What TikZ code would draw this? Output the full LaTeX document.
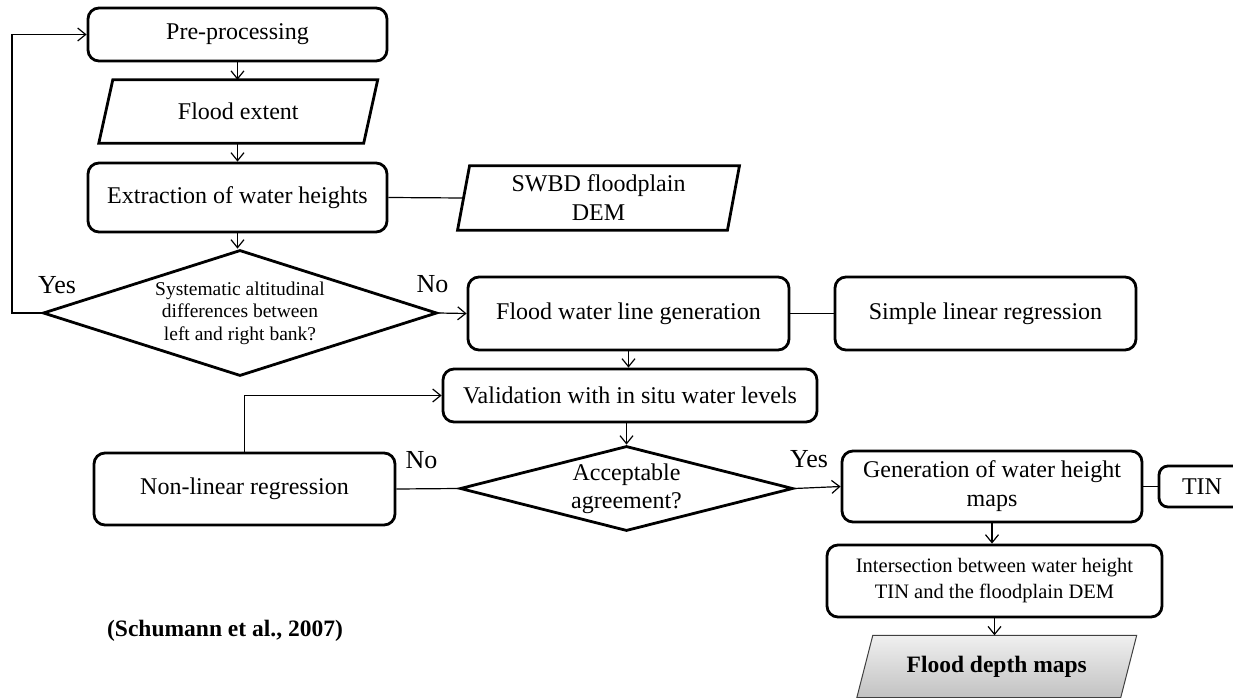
\documentclass[tikz,border=0pt]{standalone}
\usepackage{fontspec}
\setmainfont{Liberation Serif}
\usetikzlibrary{arrows.meta,shapes.geometric,backgrounds,calc}
\tikzset{
  box/.style={draw, line width=2.8pt, rounded corners=11pt, align=center, inner sep=0pt,
    font=\fontsize{24}{29}\selectfont},
  pnode/.style={align=center, inner sep=0pt, font=\fontsize{24}{29}\selectfont},
  pshape/.style={line width=2.8pt, line join=miter},
  dia/.style={draw, diamond, line width=2.8pt, inner sep=0pt, align=center},
  conn/.style={line width=1.2pt},
  arr/.style={conn, -{Straight Barb[length=8pt,width=13pt]}},
  lbl/.style={font=\fontsize{26}{30}\selectfont, inner sep=0pt, anchor=base}
}
\begin{document}
\begin{tikzpicture}[x=1pt,y=-1pt]
\useasboundingbox (0,0) rectangle (1233,698);
\clip (0,0) rectangle (1233,698);

% main column
\node[box, minimum width=299pt, minimum height=53pt] (pre) at (237.5,34.5) {Pre-processing};
\node[pnode, minimum width=264.5pt, minimum height=63pt] (fe) at (238.25,111.5) {Flood extent};
\node[box, minimum width=299pt, minimum height=69pt] (ext) at (237.5,197.5) {Extraction of water heights};
\node[pnode, minimum width=269.5pt, minimum height=64pt] (swbd) at (598.5,198) {SWBD floodplain\\DEM};
\node[dia, minimum width=394pt, minimum height=126pt, aspect=3.13,
  font=\fontsize{19.5}{22.5}\selectfont] (d1) at (240,313)
  {Systematic altitudinal\\differences between\\left and right bank?};
\node[box, minimum width=321pt, minimum height=73pt] (fwl) at (628.5,313.5) {Flood water line generation};
\node[box, minimum width=301pt, minimum height=73pt] (slr) at (985.5,313.5) {Simple linear regression};
\node[box, minimum width=374pt, minimum height=53pt] (val) at (630,395.5) {Validation with in situ water levels};
\node[dia, minimum width=333pt, minimum height=85pt, aspect=3.92,
  font=\fontsize{24}{28}\selectfont] (d2) at (626.5,488.5) {Acceptable\\agreement?};
\node[box, minimum width=301pt, minimum height=72pt] (nl) at (244.5,489) {Non-linear regression};
\node[box, minimum width=300pt, minimum height=71pt] (gen) at (992,486.5) {Generation of water height\\maps};
\node[box, minimum width=86pt, minimum height=41pt, rounded corners=9pt] (tin) at (1202,486.5) {TIN};
\node[box, minimum width=335pt, minimum height=72pt, font=\fontsize{20.5}{26}\selectfont] (inter) at (994.5,581)
  {Intersection between water height\\TIN and the floodplain DEM};
\node[pnode, minimum width=263.5pt, minimum height=62pt, font=\bfseries\fontsize{23.5}{28}\selectfont] (fd) at (996.75,666.5) {Flood depth maps};

\node[font=\bfseries\fontsize{23.5}{26}\selectfont, inner sep=0pt, anchor=base] (cite) at (225,636) {(Schumann et al., 2007)};

% labels
\node[lbl] (yes1) at (57,293) {Yes};
\node[lbl] (no1) at (432.5,292) {No};
\node[lbl] (no2) at (421.5,468) {No};
\node[lbl] (yes2) at (809,467) {Yes};

% parallelograms
\begin{scope}[on background layer]
\draw[pshape] ([xshift=7pt]fe.north west) -- ([xshift=7pt]fe.north east) -- ([xshift=-7pt]fe.south east) -- ([xshift=-7pt]fe.south west) -- cycle;
\draw[pshape] ([xshift=6pt]swbd.north west) -- ([xshift=6pt]swbd.north east) -- ([xshift=-6pt]swbd.south east) -- ([xshift=-6pt]swbd.south west) -- cycle;
\draw[line width=1pt, draw=black!75, top color=black!6, bottom color=black!24]
  ([xshift=8pt]fd.north west) -- ([xshift=8pt]fd.north east) -- ([xshift=-8pt]fd.south east) -- ([xshift=-8pt]fd.south west) -- cycle;
\end{scope}

% connectors
\coordinate (loopx) at (12,0);
\draw[arr] (pre.south) -- (pre.south |- fe.north);
\draw[arr] (ext.north |- fe.south) -- (ext.north);
\draw[conn] (ext.east) -- (swbd.west);
\draw[arr] (ext.south) -- (ext.south |- d1.north);
\draw[arr] (d1.west) -- (d1.west -| loopx) |- (pre.west);
\draw[arr] (d1.east) -- (fwl.west);
\draw[conn] (fwl.east) -- (slr.west);
\draw[arr] (fwl.south) -- (fwl.south |- val.north);
\draw[arr] (d2.north |- val.south) -- (d2.north);
\draw[conn] (nl.east) -- (d2.west);
\draw[arr] (nl.north) |- (val.west);
\draw[arr] (d2.east) -- (gen.west);
\draw[conn] (gen.east) -- (tin.west);
\draw[arr] (gen.south) -- (gen.south |- inter.north);
\draw[arr] (inter.south) -- (inter.south |- fd.north);
\end{tikzpicture}
\end{document}
